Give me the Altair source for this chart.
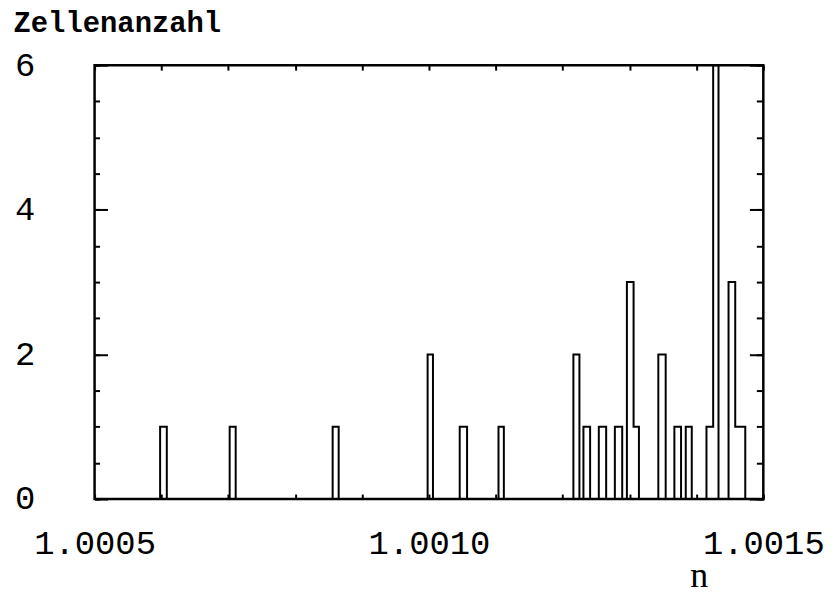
import altair as alt
import pandas as pd

# Histogram bars: left edge, right edge, count
bar_start = [1.000598, 1.000702, 1.000856, 1.000998, 1.001046, 1.001104,
             1.001216, 1.001231, 1.001254, 1.001278, 1.001296, 1.001306,
             1.001343, 1.001367, 1.001384, 1.001415, 1.001425, 1.001448,
             1.001458]
bar_end = [1.000608, 1.000711, 1.000865, 1.001006, 1.001057, 1.001112,
           1.001225, 1.001241, 1.001265, 1.001289, 1.001306, 1.001314,
           1.001354, 1.001377, 1.001393, 1.001425, 1.001433, 1.001458,
           1.001473]
bar_count = [1, 1, 1, 2, 1, 1,
             2, 1, 1, 1, 3, 1,
             2, 1, 1, 1, 6, 3,
             1]

x_min, x_max = 1.0005, 1.0015
x_ticks = [round(1.0005 + k * 0.0001, 4) for k in range(11)]
y_ticks = [k * 0.5 for k in range(13)]
y_major = [0, 2, 4, 6]

# build step outline
xs, ys = [x_min], [0]
for i, (s, e, c) in enumerate(zip(bar_start, bar_end, bar_count)):
    xs.append(s)
    ys.append(c)
    if i == len(bar_start) - 1 or abs(bar_start[i + 1] - e) > 1e-9:
        xs.append(e)
        ys.append(0)
xs.append(x_max)
ys.append(0)
df = pd.DataFrame({"n": xs, "c": ys, "i": range(len(xs))})

xscale = alt.Scale(domain=[x_min, x_max], nice=False, zero=False)
yscale = alt.Scale(domain=[0, 6], nice=False, zero=False)

LABEL_FONT = "Liberation Mono"


def layer(xaxis, yaxis, opacity=1.0):
    return alt.Chart(df).mark_line(
        interpolate="step-after", color="black", strokeWidth=2, opacity=opacity
    ).encode(
        x=alt.X("n:Q", scale=xscale, axis=xaxis),
        y=alt.Y("c:Q", scale=yscale, axis=yaxis),
        order="i:Q",
    )


main = layer(
    alt.Axis(
        orient="bottom", values=x_ticks, tickSize=5, offset=-5, domain=False,
        grid=False, labelExpr="(abs(round(datum.value*10000)) % 5 == 0) ? format(datum.value, '.4f') : ''",
        labelFont=LABEL_FONT, labelFontSize=34, labelColor="black",
        labelPadding=55, labelBaseline="alphabetic", labelFlush=False,
        labelOverlap=False, tickColor="black", tickWidth=2,
        title="n", titleFont="Liberation Serif", titleFontSize=36,
        titleFontWeight="normal", titleColor="black", titleX=607, titleY=93,
        titleAlign="center", titleBaseline="alphabetic",
    ),
    alt.Axis(
        orient="left", values=y_ticks, tickSize=5, offset=-5, domain=False,
        grid=False, labelExpr="datum.value % 2 == 0 ? format(datum.value, 'd') : ''",
        labelFont=LABEL_FONT, labelFontSize=34, labelColor="black",
        labelPadding=60, labelAlign="right", labelBaseline="middle",
        labelFlush=False, labelOverlap=False, tickColor="black", tickWidth=2,
        title="Zellenanzahl", titleFont=LABEL_FONT, titleFontSize=29,
        titleFontWeight="bold", titleColor="black", titleAngle=0,
        titleAlign="left", titleBaseline="alphabetic", titleX=-87, titleY=-34,
    ),
)

top_right = layer(
    alt.Axis(orient="top", values=x_ticks, tickSize=5, offset=-5, domain=False,
             grid=False, labels=False, title=None, tickColor="black", tickWidth=2),
    alt.Axis(orient="right", values=y_ticks, tickSize=7, offset=-7, domain=False,
             grid=False, labels=False, title=None, tickColor="black", tickWidth=2),
    opacity=0,
)

major_left = layer(
    None,
    alt.Axis(orient="left", values=y_major, tickSize=13, offset=-13, domain=False,
             grid=False, labels=False, title=None, tickColor="black", tickWidth=2),
    opacity=0,
)

major_right = layer(
    None,
    alt.Axis(orient="right", values=y_major, tickSize=14, offset=-14, domain=False,
             grid=False, labels=False, title=None, tickColor="black", tickWidth=2),
    opacity=0,
)

chart = alt.layer(main, top_right, major_left, major_right).resolve_axis(
    x="independent", y="independent"
).properties(
    width=672, height=436,
    autosize=alt.AutoSizeParams(type="none"),
    padding={"left": 87, "top": 56, "right": 66, "bottom": 94},
    background="white",
).configure_view(stroke="black", strokeWidth=2.5)

chart.save("out.html", embed_options={"renderer": "svg", "actions": False})
